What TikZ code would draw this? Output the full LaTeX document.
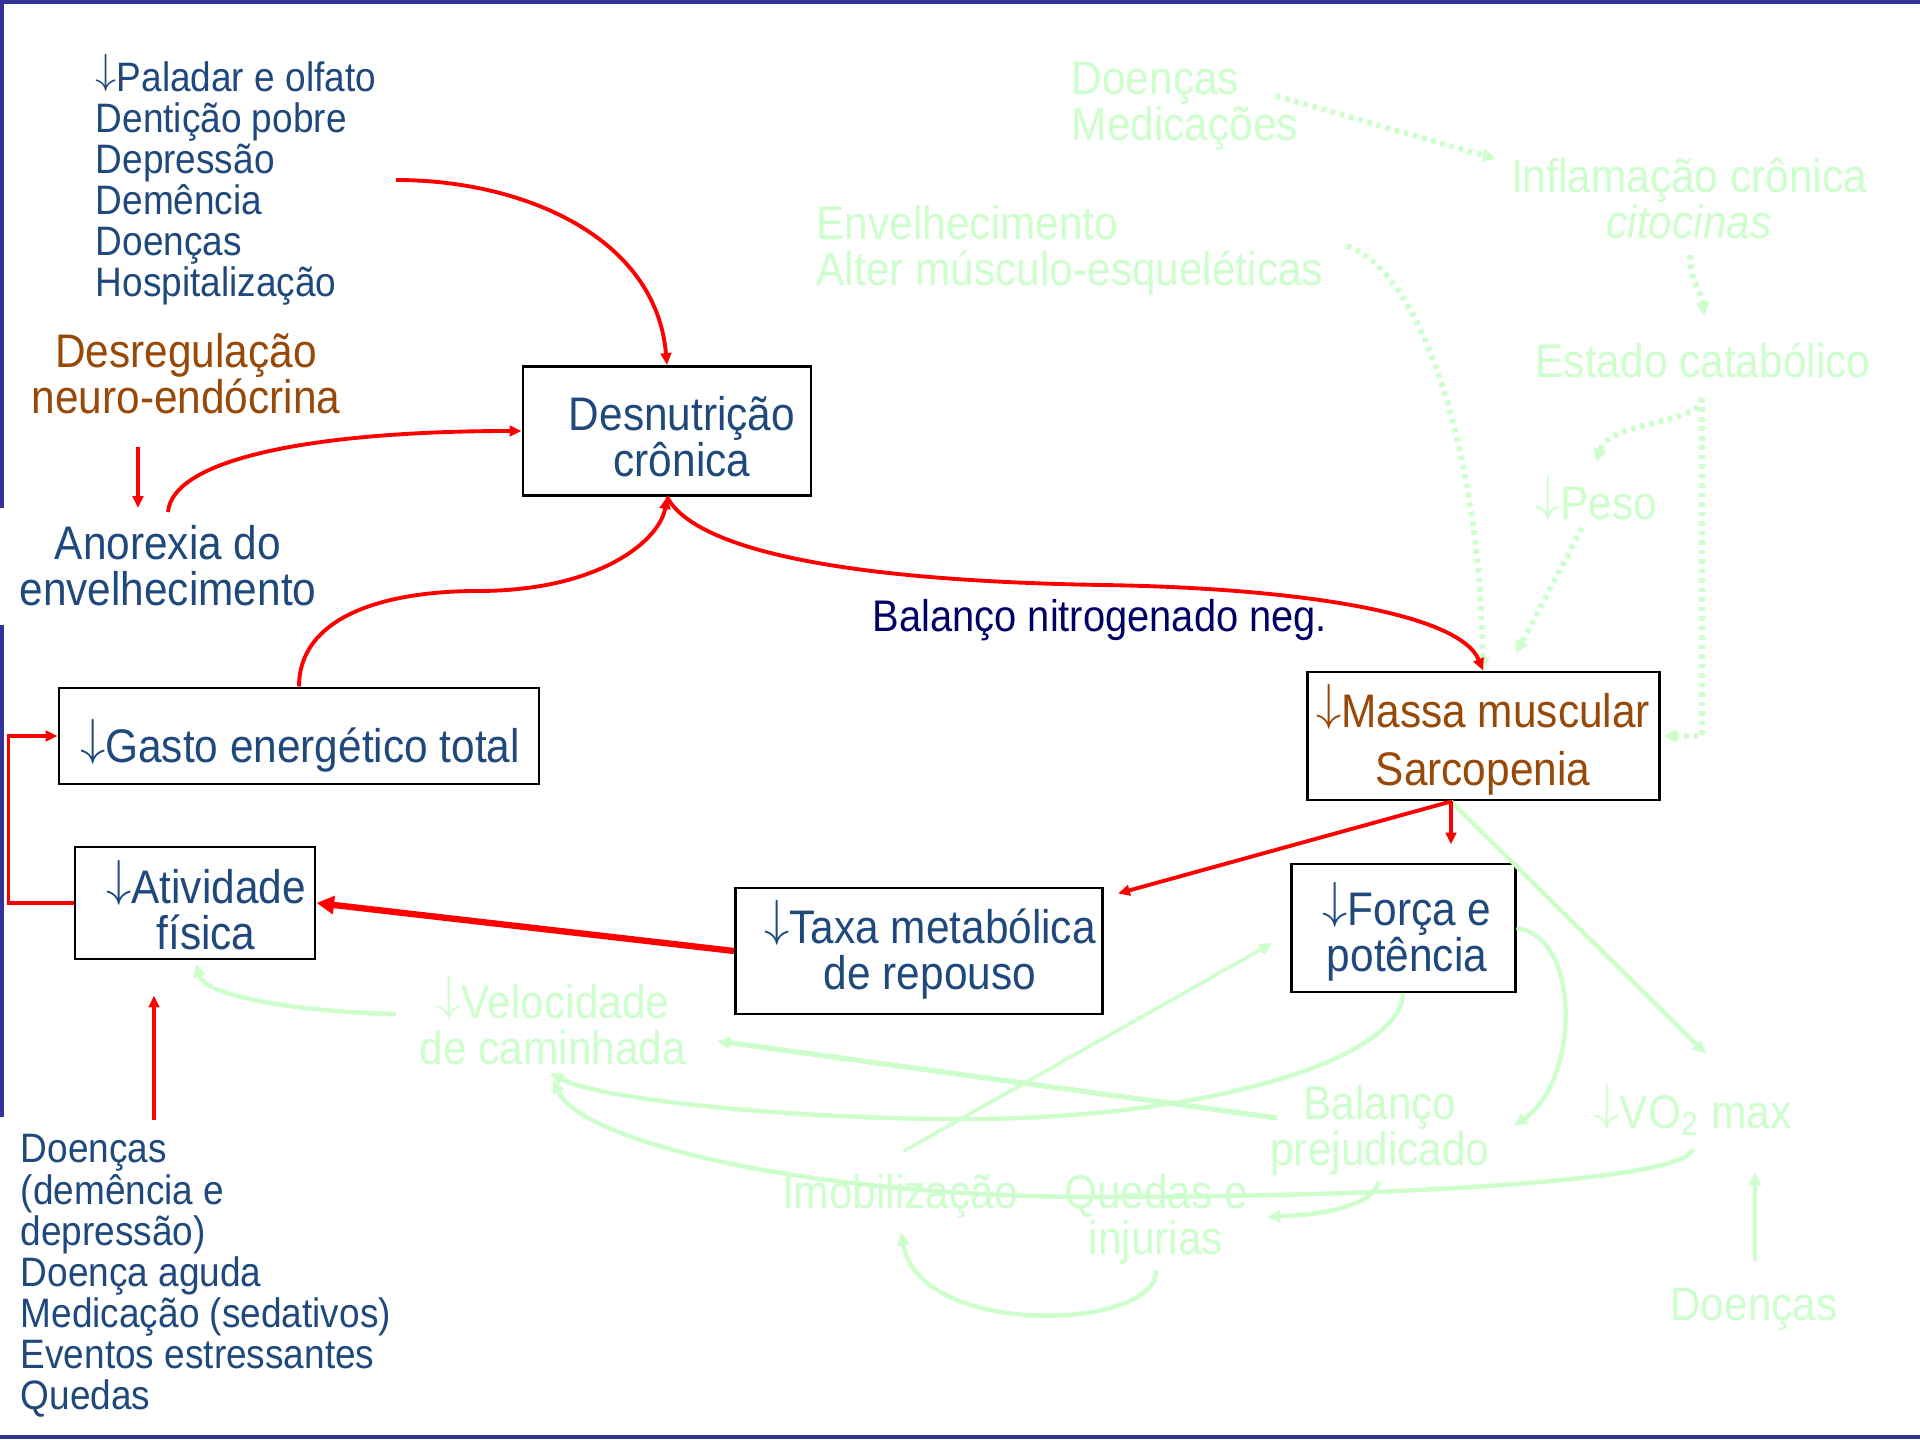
\documentclass[tikz,border=0pt]{standalone}
\usepackage{fontspec}
\setsansfont{Liberation Sans}[FakeStretch=0.9]
\RequirePackage{xcolor}
\tikzset{every picture/.style={/utils/exec={\sffamily}}}
\usetikzlibrary{calc}
\usetikzlibrary{positioning}
\usetikzlibrary{arrows.meta}

\definecolor{azul}{HTML}{1F497D}
\definecolor{marrom}{HTML}{984807}
\definecolor{marinho}{HTML}{000066}
\definecolor{verdeclaro}{HTML}{CCFFCC}
\definecolor{corborda}{HTML}{333399}

\newcommand{\fnlista}{\fontsize{11.7}{11.7}\selectfont\lineskiplimit=-10pt}
\newcommand{\fngrande}{\fontsize{13.4}{13.1}\selectfont\lineskiplimit=-10pt}
\newcommand{\fnmassa}{\fontsize{13.4}{16.5}\selectfont\lineskiplimit=-10pt}
\newcommand{\menos}{\raisebox{0.18em}{$\downarrow$}}

\tikzset{
  lista/.style={font=\fnlista, text=azul, inner sep=0pt, align=left, anchor=west},
  grande/.style={font=\fngrande, inner sep=0pt, align=center},
  caixa/.style={draw=black, line width=0.85pt, inner sep=0pt},
  fraco/.style={grande, text=verdeclaro},
  seta/.style={red, line width=1.1pt, -{Triangle[length=3.4pt,width=3pt]}},
  setav/.style={verdeclaro, line width=1.25pt, -{Triangle[length=3.8pt,width=3.4pt]}},
  pontos/.style={verdeclaro, line width=1.6pt, dash pattern=on 1.3pt off 1.4pt, -{Triangle[length=3.8pt,width=3.6pt]}},
  borda/.style={draw=corborda, line width=1.2pt}
}

\begin{document}
\begin{tikzpicture}[x=0.1mm, y=-0.1mm]
  \useasboundingbox (0,0) rectangle (1920,1440);
  \draw [borda] (0,2) -- (1920,2);
  \draw [borda, line width=1.4pt] (0,1437) -- (1920,1437);
  \draw [borda] (2,0) -- (2,508) (2,625) -- (2,1117);

  \node [lista] (causas) at (95,180) {\menos Paladar e olfato\\Dentição pobre\\Depressão\\Demência\\Doenças\\Hospitalização};
  \node [grande, text=marrom] (desreg) at (186,374) {Desregulação\\neuro-endócrina};
  \node [grande, text=azul] (anorex) at (168,566) {Anorexia do\\envelhecimento};
  \node [lista] (doencas) at (20,1276) {Doenças\\(demência e\\depressão)\\Doença aguda\\Medicação (sedativos)\\Eventos estressantes\\Quedas};

  \node [caixa, minimum width=28.8mm, minimum height=12.9mm] (desn) at (667,431) {};
  \node [caixa, minimum width=48mm, minimum height=9.6mm] (gasto) at (299,736) {};
  \node [caixa, minimum width=24mm, minimum height=11.2mm] (ativ) at (195,903) {};
  \node [caixa, minimum width=36.7mm, minimum height=12.6mm] (taxa) at (919,951) {};
  \node [caixa, minimum width=35.2mm, minimum height=12.8mm] (massa) at (1483,736) {};
  \node [caixa, minimum width=22.4mm, minimum height=12.8mm] (forca) at (1403,928) {};

  \node [grande, text=azul] (desnt) at (682,437) {Desnutrição\\crônica};
  \node [grande, text=azul] (gastot) at (300,746) {\menos Gasto energético total};
  \node [grande, text=azul] (ativt) at (206,905) {\menos Atividade\\física};
  \node [grande, text=azul] (taxat) at (930,950) {\menos Taxa metabólica\\de repouso};
  \node [grande, font=\fnmassa, text=marrom] (massat) at (1483,740) {\menos Massa muscular\\Sarcopenia};
  \node [grande, text=azul] (forcat) at (1407,932) {\menos Força e\\potência};
  \node [font=\fontsize{12.6}{13}\selectfont, text=marinho, inner sep=0pt] (nitro) at (1100,620) {Balanço nitrogenado neg.};

  \node [fraco, align=left, anchor=west] (docmed) at (1071,106) {Doenças\\Medicações};
  \node [fraco] (inflam) at (1689,199) {Inflamação crônica\\\textit{citocinas}};
  \node [fraco, align=left, anchor=west] (envelh) at (816,250) {Envelhecimento\\Alter músculo-esqueléticas};
  \node [fraco] (estado) at (1703,360) {Estado catabólico};
  \node [fraco] (peso) at (1596,498) {\menos Peso};
  \node [fraco] (veloc) at (553,1020) {\menos Velocidade\\de caminhada};
  \node [fraco] (balanc) at (1380,1130) {Balanço\\prejudicado};
  \node [fraco] (vo2) at (1693,1110) {\menos VO\textsubscript{2} max};
  \node [fraco] (imob) at (900,1196) {Imobilização};
  \node [fraco] (quedas) at (1156,1219) {Quedas e\\injurias};
  \node [fraco] (doencvo) at (1754,1309) {Doenças};

  \coordinate (ms) at ($(massa.south)+(-32,0)$);
  \coordinate (es) at ($(estado)+(-1,38)$);

  % caminhos secundarios
  \draw [pontos] ($(docmed.west)+(205,-10)$) -- ($(inflam)+(-193,-40)$);
  \draw [pontos] ($(inflam)+(1,56)$) .. controls +(0,30) and +(-2,-26) .. ($(estado)+(1,-44)$);
  \draw [pontos] ($(envelh.west)+(531,-4)$) .. controls +(73,24) and +(-3,-222) .. (massa.north);
  \draw [pontos] (es) .. controls +(-2,27) and +(14,-42) .. ($(peso)+(0,-36)$);
  \draw [pontos] ($(peso)+(-14,30)$) -- ($(massa.north)+(33,-17)$);
  \draw [pontos] (es) |- ($(massa.east)+(3,0)$);

  \draw [setav] (ms) -- ($(vo2)+(13,-56)$);
  \draw [setav] (forca.east) .. controls +(65,8) and +(66,-46) .. ($(balanc)+(134,-4)$);
  \draw [setav] (forca.south) .. controls +(-3,68) and +(226,-1) .. (974,1119)
    .. controls +(-174,1) and +(50,27) .. ($(veloc)+(-3,53)$);
  \draw [setav] ($(vo2)+(-1,39)$) .. controls +(-2,31) and +(300,0) .. (1100,1197)
    .. controls +(-300,0) and +(27,60) .. ($(veloc)+(0,60)$);
  \draw [setav, line width=1.5pt] ($(balanc)+(-103,-12)$) -- ($(veloc)+(164,21)$);
  \draw [setav, line width=1pt] ($(imob)+(4,-45)$) -- ($(forca.west)+(-17,15)$);
  \draw [setav] ($(balanc)+(-1,52)$) .. controls +(-9,28) and +(43,-2) .. ($(quedas)+(111,-2)$);
  \draw [setav] ($(quedas)+(0,51)$) .. controls +(4,60) and +(19,108) .. ($(imob)+(1,36)$);
  \draw [setav] ($(veloc)+(-157,-6)$) .. controls +(-96,-2) and +(9,33) .. ($(ativ.south)+(1,3)$);
  \draw [setav] ($(doencvo)+(1,-48)$) -- ($(vo2)+(62,62)$);

  % caminhos principais
  \draw [seta] ($(causas.west)+(301,0)$) to [out=0, in=95] (desn.north);
  \draw [seta] ($(desreg)+(-48,73)$) -- ($(anorex)+(-30,-58)$);
  \draw [seta] ($(anorex)+(0,-54)$) .. controls +(5,-55) and +(-200,0) .. (desn.west);
  \draw [seta] (gasto.north) .. controls +(0,-68) and +(-98,0) .. (478,591)
    .. controls +(122,0) and +(-7,43) .. (desn.south);
  \draw [seta] (desn.south) .. controls +(23,43) and +(-302,-5) .. (1102,585)
    .. controls +(198,3) and +(-23,-57) .. (massa.north);
  \draw [seta] (ms) -- ($(taxa.north east)+(14,7)$);
  \draw [seta] (ms) -- ($(forca.north)+(48,-18)$);
  \draw [seta, line width=1.8pt, -{Triangle[length=5pt,width=5pt]}] (taxa.west) -- (ativ.east);
  \draw [seta] (ativ.west) -- ++(-65,0) |- (gasto.west);
  \draw [seta] ($(doencas.west)+(134,-156)$) -- ($(ativ.south)+(-41,35)$);
\end{tikzpicture}
\end{document}
